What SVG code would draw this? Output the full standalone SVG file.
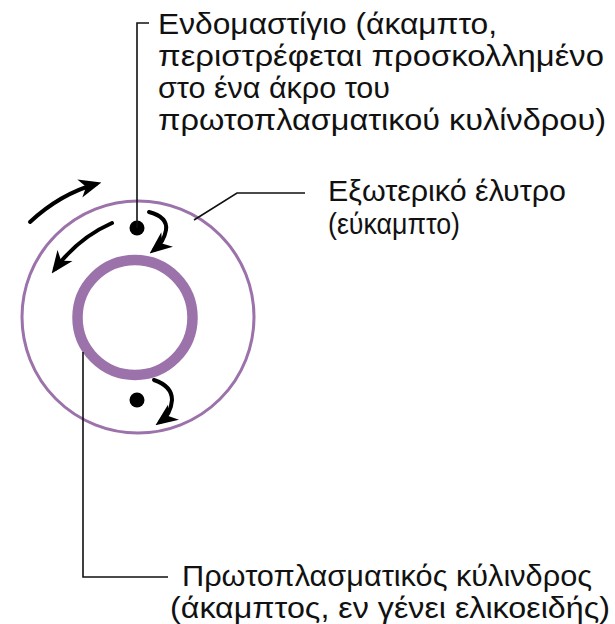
<svg xmlns="http://www.w3.org/2000/svg" width="615" height="624" viewBox="0 0 615 624">
  <style>
    .lbl { font-family: "Liberation Sans", Arial, sans-serif; font-size: 29px; fill: #111; }
    .lead { fill: none; stroke: #111; stroke-width: 1.6; }
    .rot { fill: none; stroke: #000; stroke-width: 4; stroke-linecap: round; }
  </style>
  <defs>
    <marker id="head" viewBox="0 0 12 10" refX="9" refY="5" markerWidth="5.6" markerHeight="5" orient="auto" markerUnits="strokeWidth">
      <path d="M0,0 L12,5 L0,10 L3.5,5 Z" fill="#000"/>
    </marker>
  </defs>
  <rect width="615" height="624" fill="#fff"/>

  <!-- outer sheath -->
  <g id="sheath">
    <circle cx="138" cy="317" r="116" fill="none" stroke="#9c72aa" stroke-width="3"/>
  </g>

  <!-- protoplasmic cylinder -->
  <g id="cylinder">
    <circle cx="135" cy="317.5" r="57.5" fill="none" stroke="#9c72aa" stroke-width="10.5"/>
  </g>

  <!-- endoflagella -->
  <g id="flagellum-top">
    <circle cx="137" cy="228" r="7.5" fill="#000"/>
  </g>
  <g id="flagellum-bottom">
    <circle cx="137" cy="400" r="7.5" fill="#000"/>
  </g>

  <!-- rotation arrows -->
  <g id="rotation">
    <path class="rot" d="M30,222 Q60,194 96,184" marker-end="url(#head)"/>
    <path class="rot" d="M112,223 Q78,238 55,269" marker-end="url(#head)"/>
    <path class="rot" d="M149,212 Q168,217 166,230 Q164,242 154,250" marker-end="url(#head)"/>
    <path class="rot" d="M154,380 Q172,386 172,400 Q171,414 160,422" marker-end="url(#head)"/>
  </g>

  <!-- leader lines -->
  <g id="connectors">
    <polyline class="lead" points="137,228 137,23 149,23"/>
    <polyline class="lead" points="194,220 237,193 305,193"/>
    <polyline class="lead" points="83,352 83,577 168,577"/>
  </g>

  <!-- labels -->
  <g id="label-endoflagellum">
    <text class="lbl" x="158" y="34" textLength="339" lengthAdjust="spacingAndGlyphs">Ενδομαστίγιο (άκαμπτο,</text>
    <text class="lbl" x="158" y="66" textLength="446" lengthAdjust="spacingAndGlyphs">περιστρέφεται προσκολλημένο</text>
    <text class="lbl" x="158" y="98" textLength="232" lengthAdjust="spacingAndGlyphs">στο ένα άκρο του</text>
    <text class="lbl" x="158" y="130" textLength="448" lengthAdjust="spacingAndGlyphs">πρωτοπλασματικού κυλίνδρου)</text>
  </g>
  <g id="label-sheath">
    <text class="lbl" x="328" y="201" textLength="238" lengthAdjust="spacingAndGlyphs">Εξωτερικό έλυτρο</text>
    <text class="lbl" x="328" y="234" textLength="132" lengthAdjust="spacingAndGlyphs">(εύκαμπτο)</text>
  </g>
  <g id="label-cylinder">
    <text class="lbl" x="182" y="586" textLength="410" lengthAdjust="spacingAndGlyphs">Πρωτοπλασματικός κύλινδρος</text>
    <text class="lbl" x="170" y="618" textLength="440" lengthAdjust="spacingAndGlyphs">(άκαμπτος, εν γένει ελικοειδής)</text>
  </g>
</svg>
